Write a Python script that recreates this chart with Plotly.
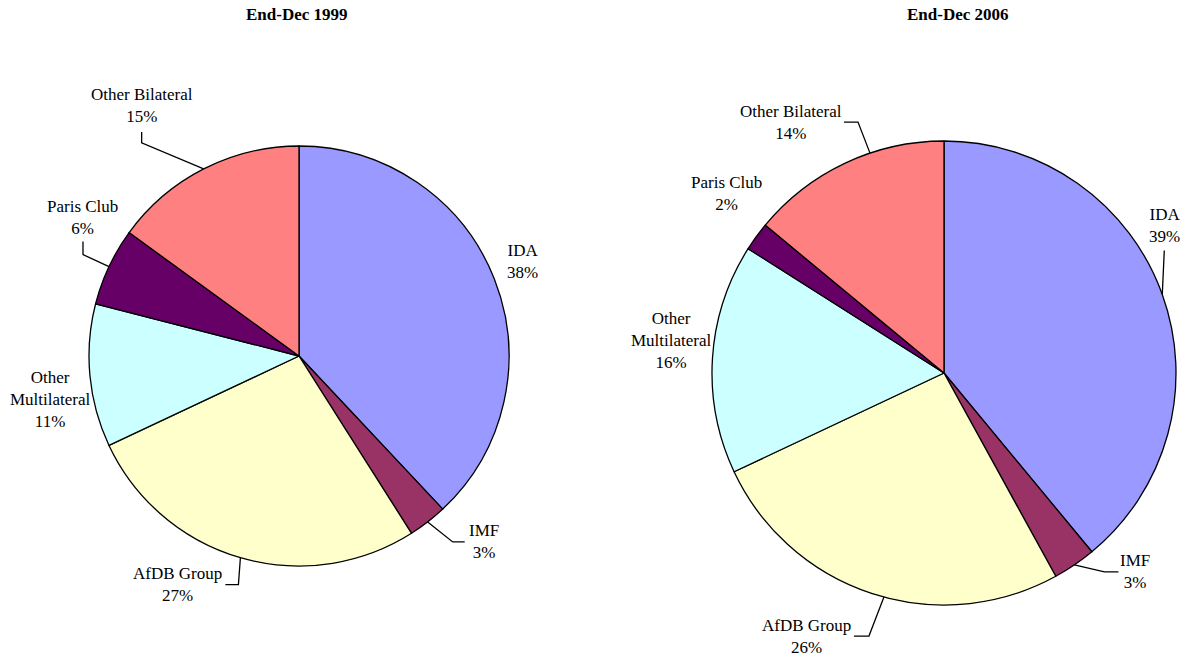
import math
import plotly.graph_objects as go

# ---------------- data ----------------
categories = ["IDA", "IMF", "AfDB Group", "Other Multilateral", "Paris Club", "Other Bilateral"]
label_text = ["IDA", "IMF", "AfDB Group", "Other<br>Multilateral", "Paris Club", "Other Bilateral"]
values_1999 = [38, 3, 27, 11, 6, 15]
values_2006 = [39, 3, 26, 16, 2, 14]
titles = ["End-Dec 1999", "End-Dec 2006"]
colors = ["#9999FF", "#993366", "#FFFFCC", "#CCFFFF", "#660066", "#FF8080"]

# ---------------- layout / style ----------------
W, H = 1184, 658
FONT = "Liberation Serif"

pie_geom = [
    dict(cx=299, cy=356, r=210, title_pos=(297, 14)),
    dict(cx=944, cy=373, r=232, title_pos=(958, 15)),
]
# per-slice label placement: offset of label centre from slice anchor,
# leader (attach, elbow) relative to label centre, anchor angle shift (deg)
label_style = [
    [
        dict(off=(28, -17), leader=None, shift=0),
        dict(off=(56, 20), leader=[(-19, 0), (-31, 0)], shift=0),
        dict(off=(-63, 27), leader=[(48, 0), (61, 0)], shift=0),
        dict(off=(-39, 24), leader=None, shift=0),
        dict(off=(-26, -49), leader=[(0, 24), (0, 37)], shift=0),
        dict(off=(-62, -63), leader=[(0, 26), (0, 37)], shift=0),
    ],
    [
        dict(off=(2, -69), leader=[(0, 25), (0, 25)], shift=0),
        dict(off=(61, 7), leader=[(-17, 0), (-31, 0)], shift=0),
        dict(off=(-77, 39), leader=[(47, 0), (62, 0)], shift=-3),
        dict(off=(-41, -18), leader=None, shift=0),
        dict(off=(-30, -43), leader=None, shift=0),
        dict(off=(-79, -31), leader=[(53, 0), (67, 0)], shift=6.6),
    ],
]


def px(x):
    return x / W


def py(y):
    return 1 - y / H


fig = go.Figure()
annotations = []
shapes = []

for vals, title, geom, styles in zip([values_1999, values_2006], titles, pie_geom, label_style):
    cx, cy, r = geom["cx"], geom["cy"], geom["r"]
    fig.add_trace(go.Pie(
        labels=categories,
        values=vals,
        sort=False,
        direction="clockwise",
        rotation=0,
        textinfo="none",
        hoverinfo="label+percent",
        marker=dict(colors=colors, line=dict(color="black", width=1.3)),
        domain=dict(x=[px(cx - r), px(cx + r)], y=[py(cy + r), py(cy - r)]),
        showlegend=False,
    ))
    tx, ty = geom["title_pos"]
    annotations.append(dict(
        x=px(tx), y=py(ty), xref="paper", yref="paper", showarrow=False,
        text="<b>" + title + "</b>", xanchor="center", yanchor="middle",
        font=dict(family=FONT, size=17, color="black"),
    ))
    total = sum(vals)
    cum = 0
    for v, lab, st in zip(vals, label_text, styles):
        mid = (cum + v / 2) / total * 360 + st["shift"]
        cum += v
        a = math.radians(mid)
        ax = cx + r * math.sin(a)
        ay = cy - r * math.cos(a)
        lx = ax + st["off"][0]
        ly = ay + st["off"][1]
        annotations.append(dict(
            x=px(lx), y=py(ly), xref="paper", yref="paper", showarrow=False,
            text=f"{lab}<br>{round(v / total * 100)}%", align="center",
            xanchor="center", yanchor="middle",
            font=dict(family=FONT, size=17, color="black"),
        ))
        if st["leader"]:
            (atx, aty), (elx, ely) = st["leader"]
            pts = [(lx + atx, ly + aty), (lx + elx, ly + ely), (ax, ay)]
            path = "M " + " L ".join(f"{px(x):.5f},{py(y):.5f}" for x, y in pts)
            shapes.append(dict(type="path", path=path, xref="paper", yref="paper",
                               line=dict(color="black", width=1.3)))

fig.update_layout(
    width=W, height=H,
    margin=dict(l=0, r=0, t=0, b=0),
    paper_bgcolor="white", plot_bgcolor="white",
    annotations=annotations, shapes=shapes,
    font=dict(family=FONT, size=17, color="black"),
)

fig.write_html(
    "out.html",
    config={"displayModeBar": False},
    post_script="document.body.style.margin='0';document.body.style.overflow='hidden';",
)
